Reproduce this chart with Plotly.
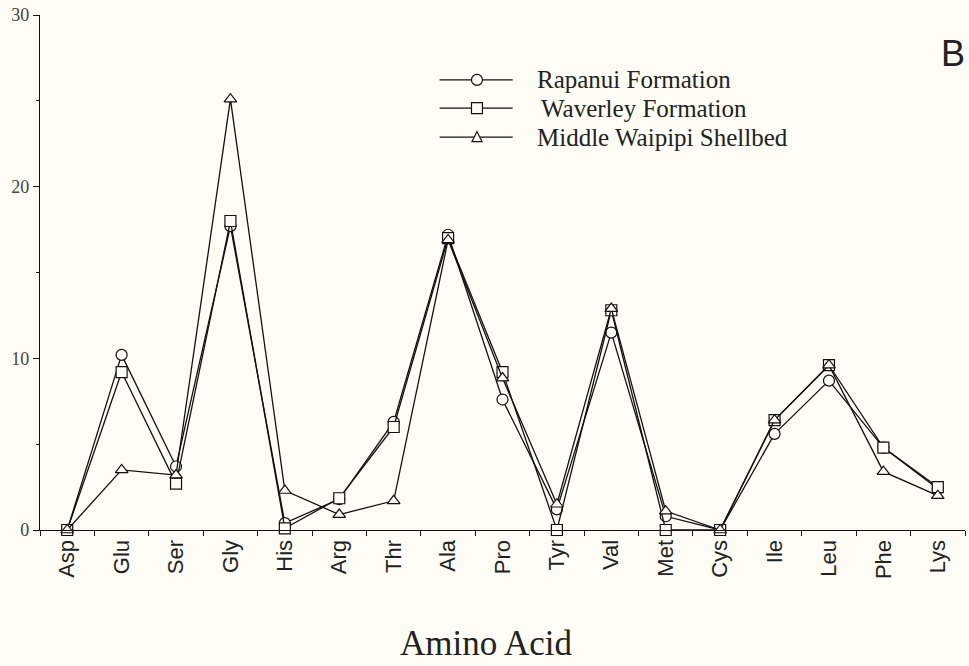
import plotly.graph_objects as go

amino_acids = ["Asp", "Glu", "Ser", "Gly", "His", "Arg", "Thr", "Ala", "Pro",
               "Tyr", "Val", "Met", "Cys", "Ile", "Leu", "Phe", "Lys"]
rapanui = [0.0, 10.2, 3.7, 17.7, 0.4, 1.8, 6.3, 17.2, 7.6, 1.2, 11.5, 0.8, 0.0, 5.6, 8.7, 4.8, 2.4]
waverley = [0.0, 9.2, 2.7, 18.0, 0.1, 1.85, 6.0, 17.0, 9.2, 0.0, 12.8, 0.0, 0.0, 6.4, 9.6, 4.8, 2.5]
waipipi = [0.0, 3.5, 3.2, 25.1, 2.3, 0.9, 1.7, 16.9, 8.85, 1.5, 12.9, 1.1, 0.0, 6.4, 9.6, 3.4, 2.0]
series_names = ["Rapanui Formation", "Waverley Formation", "Middle Waipipi Shellbed"]
y_ticks = [0, 10, 20, 30]

BG = "#fdfdf5"
INK = "#111111"
TXT = "#222222"

fig = go.Figure()
symbols = ["circle", "square", "triangle-up"]
sizes = [11, 11, 11]
for name, vals, sym, sz in zip(series_names, [rapanui, waverley, waipipi], symbols, sizes):
    fig.add_trace(go.Scatter(
        x=amino_acids, y=vals, name=name, mode="lines+markers",
        line=dict(color=INK, width=1.3),
        marker=dict(symbol=sym, size=sz, color=BG, line=dict(color=INK, width=1.2)),
        showlegend=False, cliponaxis=False,
    ))

# custom legend (layout decoration in paper coordinates)
leg_y = [0.874, 0.819, 0.763]
shapes = []
annotations = []
for i, (name, yy) in enumerate(zip(series_names, leg_y)):
    shapes.append(dict(type="line", xref="paper", yref="paper", x0=0.432, x1=0.511,
                       y0=yy, y1=yy, line=dict(color=INK, width=1.3)))
    common = dict(xref="paper", yref="paper", xsizemode="pixel", ysizemode="pixel",
                  xanchor=0.4724, yanchor=yy, fillcolor=BG, line=dict(color=INK, width=1.2))
    if i == 0:
        shapes.append(dict(type="circle", x0=-5.5, x1=5.5, y0=-5.5, y1=5.5, **common))
    elif i == 1:
        shapes.append(dict(type="rect", x0=-5.5, x1=5.5, y0=-5.5, y1=5.5, **common))
    else:
        shapes.append(dict(type="path", path="M-5,-4.5 L5,-4.5 L0,5.5 Z", **common))
    annotations.append(dict(text=name, xref="paper", yref="paper", x=0.535 + (0.004 if i == 1 else 0),
                            y=yy, xanchor="left", yanchor="middle", showarrow=False,
                            font=dict(family="Liberation Serif", size=25, color=TXT)))

annotations.append(dict(text="Amino Acid", xref="paper", yref="paper", x=0.483, y=-0.262,
                        xanchor="center", yanchor="bottom", showarrow=False,
                        font=dict(family="Liberation Serif", size=35, color=TXT)))
annotations.append(dict(text="B", xref="paper", yref="paper", x=0.987, y=0.926,
                        xanchor="center", yanchor="middle", showarrow=False,
                        font=dict(family="Liberation Sans", size=36, color=TXT)))

fig.update_layout(
    width=969, height=666,
    margin=dict(l=40, r=4, t=15, b=136),
    paper_bgcolor=BG, plot_bgcolor=BG,
    shapes=shapes, annotations=annotations,
    xaxis=dict(
        type="category", categoryorder="array", categoryarray=amino_acids,
        range=[-0.5, 16.5], showgrid=False, zeroline=False,
        showline=True, linecolor=INK, linewidth=1.3,
        ticks="outside", ticklen=5, tickwidth=1, tickcolor=INK, tickson="boundaries",
        tickangle=-90, tickfont=dict(family="Liberation Sans", size=22, color=TXT),
    ),
    yaxis=dict(
        range=[0, 30], tickvals=y_ticks, showgrid=False, zeroline=False,
        showline=True, linecolor=INK, linewidth=1.3,
        ticks="outside", ticklen=6, tickwidth=1, tickcolor=INK,
        minor=dict(dtick=5, ticks="outside", ticklen=3, tickcolor=INK, tickwidth=1, showgrid=False),
        tickfont=dict(family="Liberation Serif", size=18, color="#444444"),
    ),
)

fig.write_html("out.html", config={"displayModeBar": False},
               post_script="document.body.style.margin='0';document.body.style.overflow='hidden';"
                           "document.body.style.background='" + BG + "';")
